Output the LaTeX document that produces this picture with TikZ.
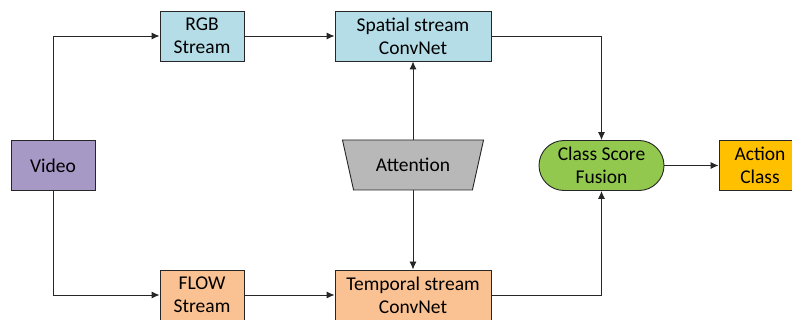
\documentclass[tikz,border=0pt]{standalone}
\usepackage{fontspec}
\setmainfont{Carlito}
\usetikzlibrary{shapes.geometric,arrows.meta}
\definecolor{vidpurple}{HTML}{A799C6}
\definecolor{rgbblue}{HTML}{B5DDE8}
\definecolor{floworange}{HTML}{FAC192}
\definecolor{fusegreen}{HTML}{92C84E}
\definecolor{classamber}{HTML}{FFC000}
\definecolor{attgray}{HTML}{B8B8B8}
\tikzset{
  box/.style={draw=black!85, line width=0.9pt, align=center, inner sep=0pt,
    minimum height=50pt, font=\fontsize{19.5}{23}\selectfont},
  link/.style={draw=black!85, line width=0.9pt, -{Latex[length=8pt,width=7pt]}},
}
\begin{document}
\begin{tikzpicture}[x=1pt,y=-1pt]
\useasboundingbox (0,0) rectangle (792,320);
%\draw[help lines] (0,0) grid (792,320);
\node[box, fill=vidpurple, minimum width=84pt] (video) at (53,165.5) {Video};
\node[box, fill=rgbblue, minimum width=84pt] (rgb) at (202,36) {RGB\\Stream};
\node[box, fill=floworange, minimum width=84pt] (flow) at (202,295) {FLOW\\Stream};
\node[box, fill=rgbblue, minimum width=156pt] (spatial) at (413,36) {Spatial stream\\ConvNet};
\node[box, fill=floworange, minimum width=156pt] (temporal) at (413,295) {Temporal stream\\ConvNet};
\node[box, fill=attgray, trapezium, shape border rotate=180,
  trapezium left angle=63, trapezium right angle=63, trapezium stretches=true,
  minimum width=142pt] (att) at (413,165) {Attention};
\node[box, fill=fusegreen, rounded corners=25pt, minimum width=125pt] (fusion) at (601.5,165.5) {Class Score\\Fusion};
\node[box, fill=classamber, minimum width=82pt] (action) at (760,165.5) {Action\\Class};
% video splits into the two streams
\draw[link] (video.north) |- (rgb.west);
\draw[link] (video.south) |- (flow.west);
\draw[link] (rgb) -- (spatial);
\draw[link] (flow) -- (temporal);
% attention feeds both nets
\draw[link] (att.bottom side) -- (spatial.south);
\draw[link] (att.top side) -- (temporal.north);
% scores to fusion
\draw[link] (spatial.east) -| (fusion.north);
\draw[link] (temporal.east) -| (fusion.south);
\draw[link] (fusion) -- (action);
\end{tikzpicture}
\end{document}
